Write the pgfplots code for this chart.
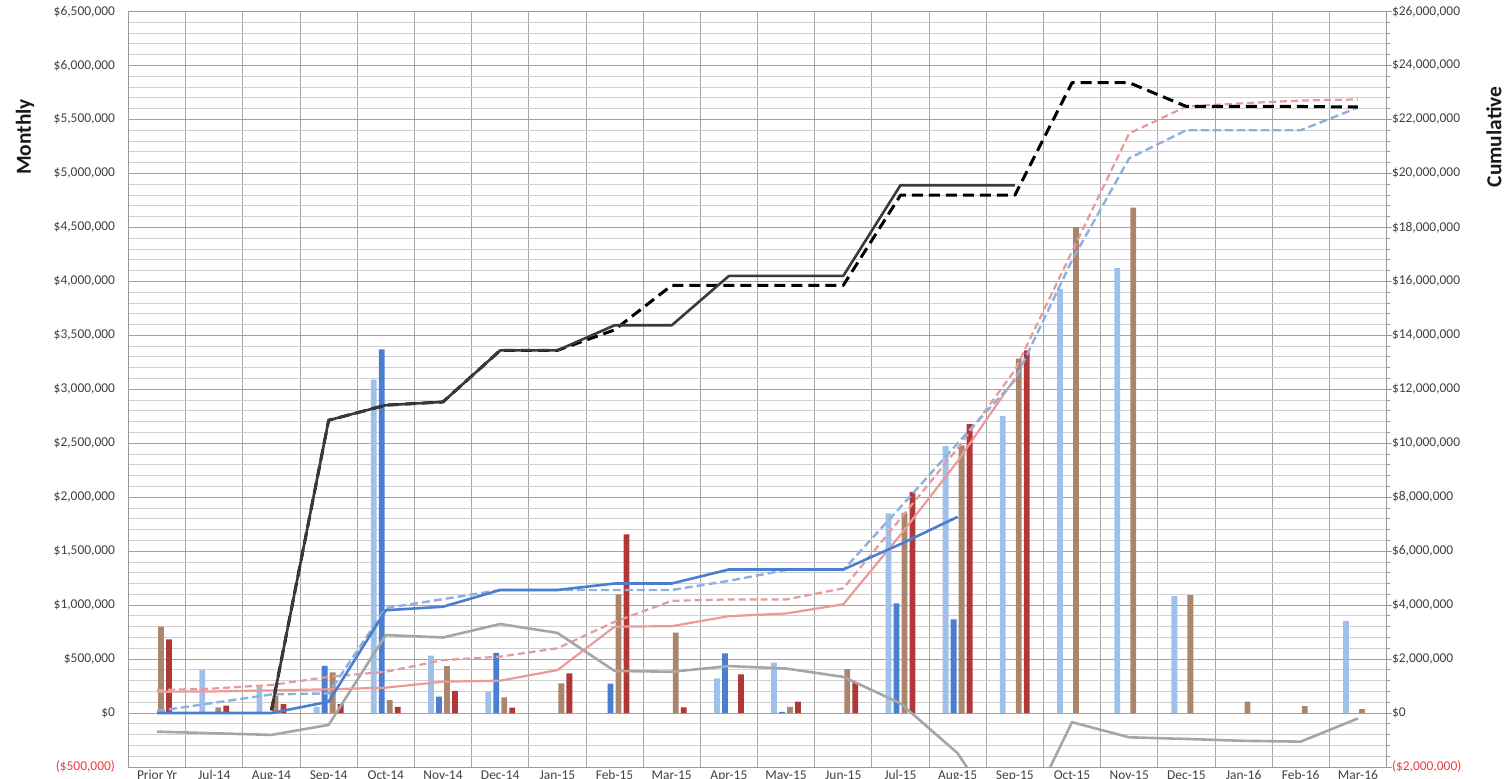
\documentclass[border=0pt]{standalone}
\usepackage{pgfplots}
\pgfplotsset{compat=1.18}
\usepackage{fontspec}
\setmainfont{Carlito}
\definecolor{lblue}{HTML}{A0C0EC}
\definecolor{dblue}{HTML}{4A7ED1}
\definecolor{brownbar}{HTML}{A9866C}
\definecolor{redbar}{HTML}{B03838}
\definecolor{lnblue}{HTML}{4A7ED1}
\definecolor{lnbluedash}{HTML}{8EB0E0}
\definecolor{lnred}{HTML}{EC9A96}
\definecolor{lnreddash}{HTML}{E59B9B}
\definecolor{lngray}{HTML}{A6A6A6}
\definecolor{lnblack}{HTML}{3A3A3A}
\definecolor{negred}{HTML}{F03C3C}
\definecolor{ticktext}{HTML}{404040}
\begin{document}
\begin{tikzpicture}
\begin{axis}[
  at={(128.5bp,12bp)}, anchor=south west,
  scale only axis, width=1258bp, height=755.5bp,
  xmin=-0.5, xmax=21.5, ymin=-500000, ymax=6500000,
  clip=true,
  xtick={0,...,21},
  xticklabels={Prior Yr,Jul-14,Aug-14,Sep-14,Oct-14,Nov-14,Dec-14,Jan-15,Feb-15,Mar-15,Apr-15,May-15,Jun-15,Jul-15,Aug-15,Sep-15,Oct-15,Nov-15,Dec-15,Jan-16,Feb-16,Mar-16},
  minor xtick={-0.5,0.5,...,21.5},
  xminorgrids,
  ytick={-500000,0,500000,1000000,1500000,2000000,2500000,3000000,3500000,4000000,4500000,5000000,5500000,6000000,6500000},
  yticklabels={{\color{negred}(\$500,000)},{\$0},{\$500,000},{\$1,000,000},{\$1,500,000},{\$2,000,000},{\$2,500,000},{\$3,000,000},{\$3,500,000},{\$4,000,000},{\$4,500,000},{\$5,000,000},{\$5,500,000},{\$6,000,000},{\$6,500,000}},
  minor y tick num=4,
  ymajorgrids, yminorgrids,
  major grid style={draw=black!36, line width=0.8bp},
  minor grid style={draw=black!19, line width=0.8bp},
  minor x grid style={draw=black!34, line width=0.8bp},
  major tick length=0pt, minor tick length=0pt,
  axis line style={draw=black!40, line width=0.8bp},
  ticklabel style={font=\fontsize{13.5}{15}\selectfont, text=ticktext},
  yticklabel style={xshift=-10bp},
  scaled y ticks=false,
]
% light blue bars
\addplot[ybar, bar width=5.8bp, bar shift=-12bp, fill=lblue, draw=none] coordinates {
 (1,405000) (2,259000) (3,58000) (4,3090000) (5,531000) (6,198000) (10,321000) (11,466000)
 (13,1849000) (14,2472000) (15,2753000) (16,3930000) (17,4123000) (18,1083000) (21,855000)};
% dark blue bars
\addplot[ybar, bar width=5.8bp, bar shift=-4bp, fill=dblue, draw=none] coordinates {
 (3,438000) (4,3370000) (5,151000) (6,558000) (8,272000) (10,553000) (11,10000) (13,1016000) (14,868000)};
% brown bars
\addplot[ybar, bar width=5.8bp, bar shift=4bp, fill=brownbar, draw=none] coordinates {
 (0,800000) (1,53000) (2,160000) (3,377000) (4,120000) (5,435000) (6,145000) (7,275000)
 (8,1099000) (9,744000) (11,58000) (12,407000) (13,1855000) (14,2481000) (15,3284000)
 (16,4503000) (17,4682000) (18,1093000) (19,105000) (20,65000) (21,37000)};
% red bars
\addplot[ybar, bar width=5.8bp, bar shift=12bp, fill=redbar, draw=none] coordinates {
 (0,682000) (1,68000) (2,83000) (3,83000) (4,58000) (5,206000) (6,49000) (7,367000)
 (8,1655000) (9,53000) (10,358000) (11,105000) (12,284000) (13,2049000) (14,2676000) (15,3361000)};
\end{axis}
\begin{axis}[
  at={(128.5bp,12bp)}, anchor=south west,
  scale only axis, width=1258bp, height=755.5bp,
  xmin=-0.5, xmax=21.5, ymin=-2000000, ymax=26000000,
  axis x line=none, axis y line*=right,
  clip=true,
  ytick={-2000000,0,2000000,4000000,6000000,8000000,10000000,12000000,14000000,16000000,18000000,20000000,22000000,24000000,26000000},
  yticklabels={{\color{negred}(\$2,000,000)},{\$0},{\$2,000,000},{\$4,000,000},{\$6,000,000},{\$8,000,000},{\$10,000,000},{\$12,000,000},{\$14,000,000},{\$16,000,000},{\$18,000,000},{\$20,000,000},{\$22,000,000},{\$24,000,000},{\$26,000,000}},
  minor y tick num=4,
  tick align=outside,
  major tick length=5bp, minor tick length=3bp,
  tick style={draw=black!40, line width=0.8bp},
  axis line style={draw=black!40, line width=0.8bp},
  ticklabel style={font=\fontsize{13.5}{15}\selectfont, text=ticktext},
  yticklabel style={xshift=-3bp},
  scaled y ticks=false,
  every axis plot/.append style={line join=round, line cap=butt},
]
% gray line
\addplot[lngray, line width=2.6bp] coordinates {
 (0,-690000) (1,-750000) (2,-810000) (3,-440000) (4,2890000) (5,2800000) (6,3300000) (7,2970000)
 (8,1560000) (9,1530000) (10,1740000) (11,1650000) (12,1340000) (13,360000) (14,-1490000)
 (15,-4700000) (16,-340000) (17,-900000) (18,-960000) (19,-1030000) (20,-1060000) (21,-200000)};
% red solid
\addplot[lnred, line width=2.2bp] coordinates {
 (0,790000) (1,800000) (2,840000) (3,880000) (4,940000) (5,1160000) (6,1200000) (7,1590000)
 (8,3200000) (9,3220000) (10,3590000) (11,3690000) (12,4030000) (13,6600000) (14,9330000) (15,12400000)};
% red dashed
\addplot[lnreddash, line width=2.2bp, dash pattern=on 7bp off 4bp] coordinates {
 (0,850000) (1,910000) (2,1040000) (3,1340000) (4,1530000) (5,1960000) (6,2090000) (7,2400000)
 (8,3380000) (9,4160000) (10,4210000) (11,4210000) (12,4620000) (13,7200000) (14,9810000)
 (15,12700000) (16,17100000) (17,21480000) (18,22480000) (19,22600000) (20,22700000) (21,22740000)};
% blue dashed
\addplot[lnbluedash, line width=2.4bp, dash pattern=on 8bp off 4bp] coordinates {
 (0,70000) (1,380000) (2,690000) (3,730000) (4,3890000) (5,4220000) (6,4560000) (7,4560000)
 (8,4560000) (9,4560000) (10,4900000) (11,5300000) (12,5300000) (13,7630000) (14,10000000)
 (15,12330000) (16,16780000) (17,20560000) (18,21600000) (19,21600000) (20,21600000) (21,22440000)};
% blue solid
\addplot[lnblue, line width=2.6bp] coordinates {
 (0,0) (1,0) (2,0) (3,420000) (4,3810000) (5,3940000) (6,4560000) (7,4560000) (8,4800000)
 (9,4800000) (10,5320000) (11,5320000) (12,5320000) (13,6260000) (14,7270000)};
% black dashed (drawn beneath the solid black)
\addplot[black, line width=3bp, dash pattern=on 11bp off 6bp] coordinates {
 (2,100000) (3,10850000) (4,11410000) (5,11530000) (6,13440000) (7,13440000) (8,14200000)
 (9,15850000) (10,15850000) (11,15850000) (12,15850000) (13,19190000) (14,19190000) (15,19190000)
 (16,23360000) (17,23360000) (18,22480000) (19,22480000) (20,22480000) (21,22460000)};
% black solid
\addplot[lnblack, line width=2.6bp] coordinates {
 (2,100000) (3,10850000) (4,11410000) (5,11530000) (6,13440000) (7,13440000) (8,14370000)
 (9,14370000) (10,16200000) (11,16200000) (12,16200000) (13,19560000) (14,19560000) (15,19560000)};
\end{axis}
\node[rotate=90, font=\fontsize{21.5}{24}\selectfont\bfseries, text=black!90] at (25bp,642bp) {Monthly};
\node[rotate=90, font=\fontsize{21.5}{24}\selectfont\bfseries, text=black!90] at (1494bp,642bp) {Cumulative};
\pgfresetboundingbox
\path[use as bounding box] (0,0) rectangle (1505bp,779bp);
\end{tikzpicture}
\end{document}
